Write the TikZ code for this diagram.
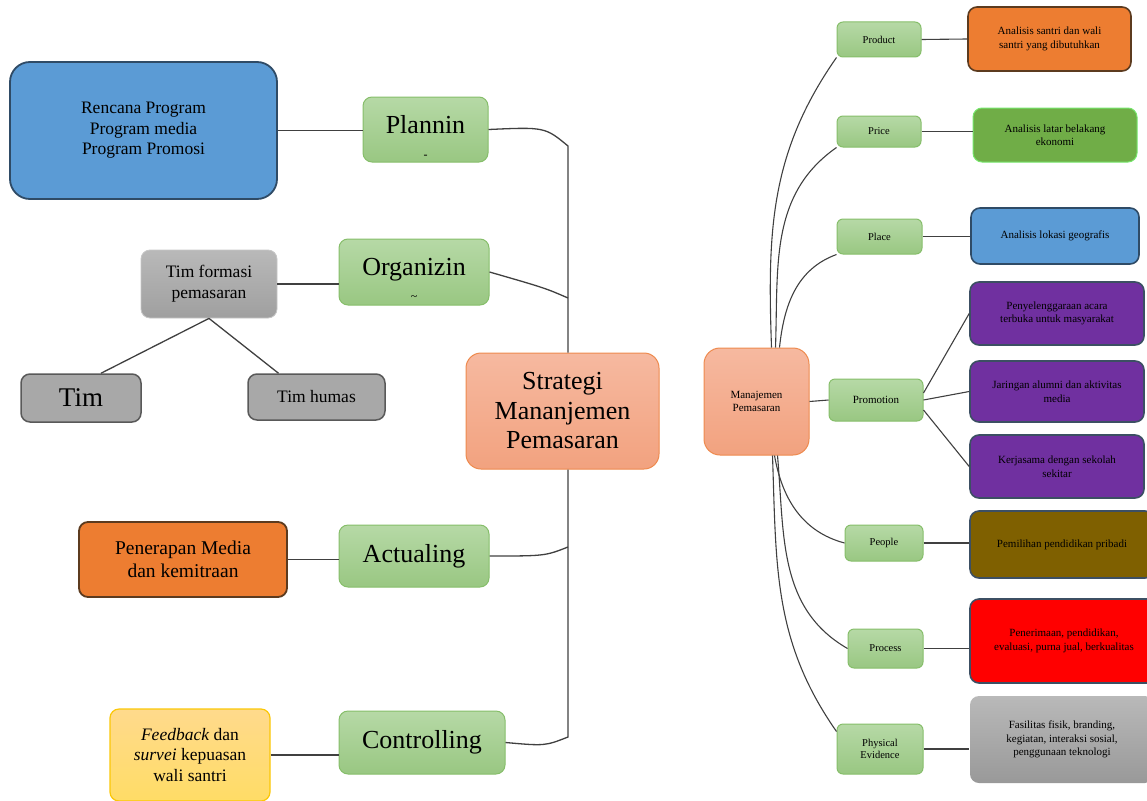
\documentclass[tikz,border=0pt]{standalone}
\usepackage{fontspec}
\setmainfont{Liberation Serif}
\usetikzlibrary{positioning}
\definecolor{phasetop}{HTML}{B6D9A6}
\definecolor{phasebot}{HTML}{99C782}
\definecolor{phaseline}{HTML}{86BE6A}
\definecolor{hubtop}{HTML}{F6B9A0}
\definecolor{hubbot}{HTML}{F2A27F}
\definecolor{hubline}{HTML}{EE8A4E}
\definecolor{linkgray}{HTML}{404040}
\definecolor{bluefill}{HTML}{5B9BD5}
\definecolor{navyline}{HTML}{2F4B66}
\definecolor{orangefill}{HTML}{ED7D31}
\definecolor{brownline}{HTML}{5C3B1F}
\definecolor{greenfill}{HTML}{70AD47}
\definecolor{purplefill}{HTML}{7030A0}
\definecolor{slateline}{HTML}{3C4F63}
\definecolor{olivefill}{HTML}{7F6000}
\newcommand{\fsz}[2]{\fontsize{#1}{#2}\selectfont}

\begin{document}
\begin{tikzpicture}[x=1pt,y=-1pt,
box/.style={rounded corners=9pt,align=center,inner sep=0pt,text=black},
phase/.style={box,draw=phaseline,line width=1pt,top color=phasetop,bottom color=phasebot},
hub/.style={box,draw=hubline,line width=1pt,top color=hubtop,bottom color=hubbot},
greytone/.style={box,top color=gray!55,bottom color=gray!75,draw=gray!45,line width=.8pt},
team/.style={box,fill=gray!68,draw=gray!130,line width=1.5pt},
detail/.style={box,draw=slateline,line width=1.6pt,font=\fsz{11}{13.5}},
link/.style={draw=linkgray,line width=1.3pt}]
\useasboundingbox (0,0) rectangle (1147,800);

\node[box,fill=bluefill,draw=navyline,line width=1.8pt,rounded corners=20pt,minimum width=267pt,minimum height=137pt,font=\fsz{17.5}{20.5}] (rencana) at (143.5,130.5) {Rencana Program\\Program media\\Program Promosi};
\node[phase,minimum width=125pt,minimum height=65pt,font=\fsz{26}{25}] (plan) at (425.5,129.5) {\rule{0pt}{32pt}Plannin\\{\fsz{12}{12}-}};
\node[phase,minimum width=150pt,minimum height=66pt,font=\fsz{26}{25}] (org) at (414,272) {\rule{0pt}{32pt}Organizin\\{\fsz{12}{12}\textasciitilde}};
\node[greytone,minimum width=136pt,minimum height=68pt,font=\fsz{17.5}{21}] (timf) at (209,284) {Tim formasi\\pemasaran};
\node[team,minimum width=120pt,minimum height=48pt,font=\fsz{27}{30}] (tim) at (81,398) {Tim};
\node[team,minimum width=137pt,minimum height=46pt,font=\fsz{17.5}{20}] (humas) at (316.5,397) {Tim humas};
\node[hub,rounded corners=15pt,minimum width=193pt,minimum height=116pt,font=\fsz{26}{29.5}] (strat) at (562.5,411) {Strategi\\Mananjemen\\Pemasaran};
\node[box,fill=orangefill,draw=brownline,line width=1.8pt,minimum width=208pt,minimum height=75pt,font=\fsz{19.5}{23}] (pen) at (183,559.5) {Penerapan Media\\dan kemitraan};
\node[phase,minimum width=150pt,minimum height=62pt,font=\fsz{26}{29}] (act) at (414,556) {Actualing};
\node[box,top color=yellow!35!orange!45,bottom color=yellow!55!orange!60,draw=yellow!60!orange,line width=1.2pt,minimum width=160pt,minimum height=92pt,font=\fsz{17.5}{20.5}] (fb) at (190,755) {\textit{Feedback} dan\\\textit{survei} kepuasan\\wali santri};
\node[phase,minimum width=166pt,minimum height=63pt,font=\fsz{26}{29}] (ctrl) at (422,742.5) {Controlling};

\node[hub,rounded corners=16pt,minimum width=105pt,minimum height=107pt,font=\fsz{11}{12.5}] (mp) at (756.5,401.5) {Manajemen\\Pemasaran};
\node[phase,rounded corners=6pt,minimum width=84pt,minimum height=35pt,font=\fsz{10.5}{12}] (prod) at (879,39.5) {Product};
\node[phase,rounded corners=6pt,minimum width=84pt,minimum height=31pt,font=\fsz{10.5}{12}] (price) at (879,131.5) {Price};
\node[phase,rounded corners=6pt,minimum width=85pt,minimum height=35pt,font=\fsz{10.5}{12}] (place) at (879.5,236.5) {Place};
\node[phase,rounded corners=6pt,minimum width=94pt,minimum height=42pt,font=\fsz{11}{12}] (promo) at (876,400) {Promotion};
\node[phase,rounded corners=6pt,minimum width=78pt,minimum height=36pt,font=\fsz{10.5}{12}] (people) at (884,543) {People};
\node[phase,rounded corners=6pt,minimum width=75pt,minimum height=39pt,font=\fsz{10.5}{12}] (proc) at (885.5,648.5) {Process};
\node[phase,rounded corners=6pt,minimum width=86pt,minimum height=50pt,font=\fsz{10.5}{12}] (phys) at (880,749) {Physical\\Evidence};

\node[detail,fill=orangefill,draw=brownline,minimum width=163pt,minimum height=64pt] (prodbox) at (1049.5,39) {Analisis santri dan wali\\santri yang dibutuhkan};
\node[detail,fill=greenfill,draw=green!35!phasetop,line width=1pt,minimum width=164pt,minimum height=54pt] (pricebox) at (1055,135) {Analisis latar belakang\\ekonomi};
\node[detail,fill=bluefill,draw=navyline,minimum width=168pt,minimum height=56pt] (placebox) at (1055,236) {Analisis lokasi geografis};
\node[detail,fill=purplefill,minimum width=174pt,minimum height=63pt] (pr1) at (1057,313.5) {Penyelenggaraan acara\\terbuka untuk masyarakat};
\node[detail,fill=purplefill,minimum width=174pt,minimum height=61pt] (pr2) at (1057,391.5) {Jaringan alumni dan aktivitas\\media};
\node[detail,fill=purplefill,minimum width=174pt,minimum height=63pt] (pr3) at (1057,466.5) {Kerjasama dengan sekolah\\sekitar};
\node[detail,fill=olivefill,minimum width=184pt,minimum height=67pt] (peoplebox) at (1062,544.5) {Pemilihan pendidikan pribadi};
\node[detail,fill=red,minimum width=188pt,minimum height=84pt] (procbox) at (1064,641) {Penerimaan, pendidikan,\\evaluasi, purna jual, berkualitas};
\node[detail,draw=none,top color=gray!55,bottom color=gray!80,minimum width=184pt,minimum height=87pt] (physbox) at (1062,739.5) {Fasilitas fisik, branding,\\kegiatan, interaksi sosial,\\penggunaan teknologi};

\path[link]
(rencana.east) edge (rencana.east -| plan.west)
(timf.east) edge (timf.east -| org.west)
(timf.south) edge ([xshift=20pt]tim.north)
(timf.south) edge ([xshift=-38pt]humas.north)
(pen.east) edge (pen.east -| act.west)
(fb.east) edge (fb.east -| ctrl.west);

\coordinate (jp) at (568,146);
\coordinate (jo) at (568,298);
\coordinate (ja) at (568,547);
\coordinate (jc) at (568,737);
\draw[link] (plan.east) .. controls (545,127) .. (jp) -- (jp |- strat.north);
\draw[link] (org.east) .. controls (545,288) .. (jo);
\draw[link] (act.east) .. controls (545,556) .. (ja);
\draw[link] (ctrl.east) .. controls (545,746) .. (jc) -- (jc |- strat.south);

\draw[link,line width=1.1pt] ([xshift=15pt]mp.north) to[out=92,in=235] (prod.south west);
\draw[link,line width=1.1pt] ([xshift=19pt]mp.north) to[out=88,in=215] (price.south west);
\draw[link,line width=1.1pt] ([xshift=23pt]mp.north) to[out=84,in=200] (place.south west);
\draw[link,line width=1.1pt] ([xshift=18pt]mp.south) to[out=-80,in=165] (people.west);
\draw[link,line width=1.1pt] ([xshift=21pt]mp.south) to[out=-85,in=150] (proc.west);
\draw[link,line width=1.1pt] ([xshift=16pt]mp.south) to[out=-88,in=125] ([yshift=-8pt]phys.north west);

\path[link,line width=1.1pt]
(mp.east) edge (promo.west)
([yshift=7pt]promo.east) edge (pr1.west)
(promo.east) edge (pr2.west)
([yshift=-10pt]promo.east) edge (pr3.west)
(prod.east) edge (prodbox.west)
(price.east) edge (price.east -| pricebox.west)
(place.east) edge (place.east -| placebox.west)
(people.east) edge (people.east -| peoplebox.west)
(proc.east) edge (proc.east -| procbox.west)
(phys.east) edge (phys.east -| physbox.west);
\end{tikzpicture}
\end{document}
